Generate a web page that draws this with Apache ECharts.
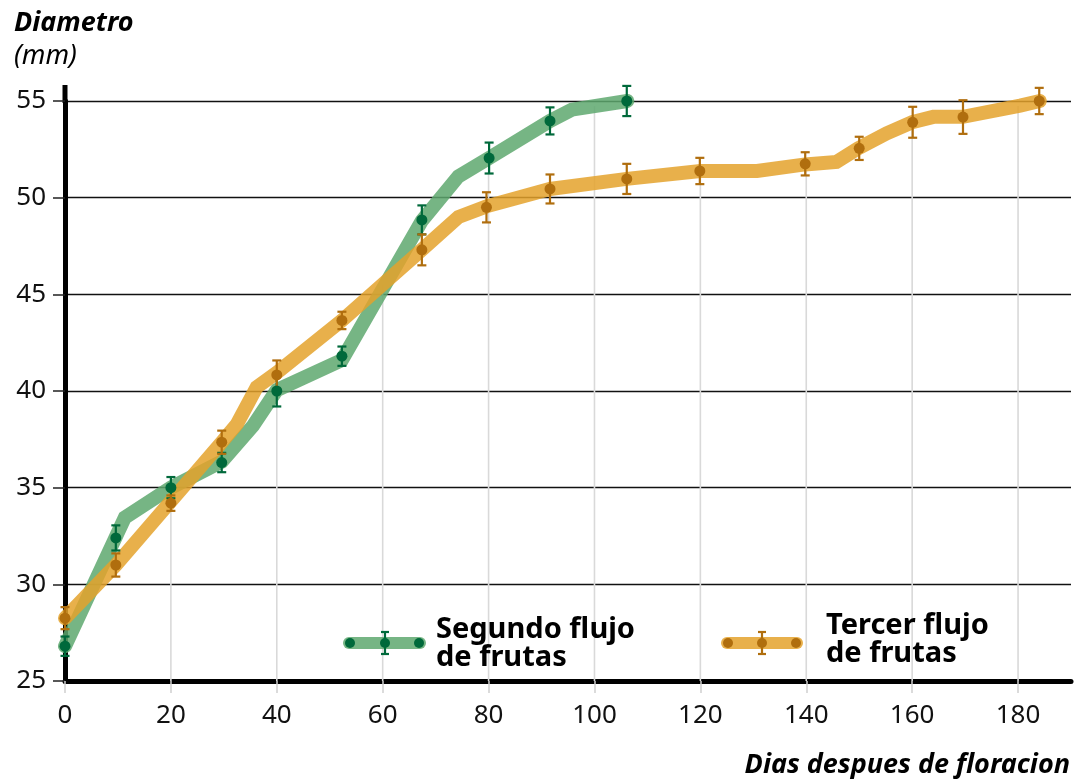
<!DOCTYPE html>
<html><head><meta charset="utf-8">
<script src="https://cdn.jsdelivr.net/npm/echarts@6/dist/echarts.min.js"></script>
<style>html,body{margin:0;padding:0;background:#fff}#c{width:1076px;height:782px}</style>
</head><body><div id="c"></div>
<script>
// ---- Data ----
const xTickValues = [0, 20, 40, 60, 80, 100, 120, 140, 160, 180];
const yTickValues = [25, 30, 35, 40, 45, 50, 55];
const dropLineDays = [20, 40, 60, 80, 100, 120, 140, 160, 180];

// Segundo flujo de frutas: measured means and error (±)
const greenDays = [0, 9.6, 20, 29.6, 40, 52.3, 67.4, 80.1, 91.6, 106.1];
const greenDiam = [26.8, 32.4, 35.0, 36.3, 40.0, 41.8, 48.85, 52.05, 53.97, 55.0];
const greenErr  = [0.5, 0.65, 0.55, 0.5, 0.8, 0.5, 0.75, 0.8, 0.7, 0.78];
// Trend band vertices (green)
const greenCurveDays = [0, 11.3, 20, 29.6, 35.5, 40, 52.3, 67.4, 74.3, 80.1, 91.6, 95.7, 106.2];
const greenCurveDiam = [26.8, 33.45, 35.0, 36.35, 38.2, 40.05, 41.6, 48.8, 51.1, 52.05, 53.97, 54.55, 55.0];

// Tercer flujo de frutas
const orangeDays = [0, 9.6, 20, 29.6, 40, 52.3, 67.4, 79.6, 91.6, 106.1, 119.9, 139.8, 150, 160.1, 169.6, 184];
const orangeDiam = [28.25, 31.0, 34.2, 37.35, 40.83, 43.65, 47.3, 49.5, 50.45, 50.97, 51.38, 51.75, 52.55, 53.9, 54.17, 55.0];
const orangeErr  = [0.57, 0.6, 0.4, 0.6, 0.75, 0.45, 0.8, 0.78, 0.75, 0.78, 0.68, 0.6, 0.6, 0.8, 0.87, 0.68];
// Trend band vertices (orange)
const orangeCurveDays = [0, 9.6, 20, 29.6, 32.5, 36.2, 40, 52.3, 67.4, 74.3, 79.6, 91.6, 106.1, 120, 130.7, 139.8, 145.7, 149.8, 155.2, 160, 164, 169.6, 180.4, 184.1];
const orangeCurveDiam = [28.25, 31.0, 34.3, 37.35, 38.3, 40.2, 40.95, 43.65, 47.3, 49.0, 49.55, 50.45, 50.97, 51.38, 51.38, 51.72, 51.85, 52.55, 53.33, 53.9, 54.18, 54.18, 54.76, 55.0];

const seriesNames = ['Segundo flujo\nde frutas', 'Tercer flujo\nde frutas'];

// ---- Styles ----
const GREEN_BAND = '#5ea86f', GREEN_DARK = '#00693b';
const ORANGE_BAND = '#e4a22b', ORANGE_DARK = '#b06e0e';
const BAND_OPACITY = 0.85;
const FONT = '"Noto Sans", "Open Sans", sans-serif';

const zip = (a, b, c) => a.map((v, i) => c ? [v, b[i], c[i]] : [v, b[i]]);
const greenCurve = zip(greenCurveDays, greenCurveDiam);
const orangeCurve = zip(orangeCurveDays, orangeCurveDiam);

function curveAt(curve, x) {
  if (x < curve[0][0] || x > curve[curve.length - 1][0]) return -Infinity;
  for (let i = 1; i < curve.length; i++) {
    if (x <= curve[i][0]) {
      const [x0, y0] = curve[i - 1], [x1, y1] = curve[i];
      return y0 + (y1 - y0) * (x - x0) / (x1 - x0);
    }
  }
  return -Infinity;
}

function errRender(color) {
  return function (params, api) {
    const x = api.value(0), y = api.value(1), e = api.value(2);
    const t = api.coord([x, y + e]), b = api.coord([x, y - e]);
    const w = 4.5, st = { stroke: color, lineWidth: 2.2 };
    return { type: 'group', children: [
      { type: 'line', shape: { x1: t[0], y1: t[1], x2: b[0], y2: b[1] }, style: st },
      { type: 'line', shape: { x1: t[0] - w, y1: t[1], x2: t[0] + w, y2: t[1] }, style: st },
      { type: 'line', shape: { x1: b[0] - w, y1: b[1], x2: b[0] + w, y2: b[1] }, style: st }
    ]};
  };
}

function legendItem(x0, x1, xm, y, band, dark, tx, ty, label) {
  const st = { stroke: dark, lineWidth: 2.2 };
  return [
    { type: 'line', shape: { x1: x0, y1: y, x2: x1, y2: y }, style: { stroke: band, lineWidth: 12, lineCap: 'round', opacity: BAND_OPACITY }, z: 100 },
    { type: 'circle', shape: { cx: x0 + 1, cy: y, r: 5 }, style: { fill: dark }, z: 101 },
    { type: 'circle', shape: { cx: xm, cy: y, r: 5 }, style: { fill: dark }, z: 101 },
    { type: 'circle', shape: { cx: x1 - 1, cy: y, r: 5 }, style: { fill: dark }, z: 101 },
    { type: 'line', shape: { x1: xm, y1: y - 11, x2: xm, y2: y + 11 }, style: st, z: 101 },
    { type: 'line', shape: { x1: xm - 4, y1: y - 11, x2: xm + 4, y2: y - 11 }, style: st, z: 101 },
    { type: 'line', shape: { x1: xm - 4, y1: y + 11, x2: xm + 4, y2: y + 11 }, style: st, z: 101 },
    { type: 'text', left: tx, top: ty, style: { text: label, font: 'bold 29px ' + FONT, fill: '#000', lineHeight: 28 }, z: 101 }
  ];
}

const chart = echarts.init(document.getElementById('c'), null, { renderer: 'canvas' });
chart.setOption({
  backgroundColor: '#fff',
  animation: false,
  title: {
    text: 'Diametro', subtext: '(mm)', left: 9, top: 5, itemGap: 6,
    textStyle: { fontFamily: FONT, fontSize: 27, fontWeight: 'bold', fontStyle: 'italic', color: '#000' },
    subtextStyle: { fontFamily: FONT, fontSize: 27, fontStyle: 'italic', color: '#000' }
  },
  grid: { left: 65, right: 5, top: 101, bottom: 101, containLabel: false },
  xAxis: {
    type: 'value', min: 0, max: 190, interval: 20,
    axisLine: { show: true, onZero: false, lineStyle: { color: '#000', width: 5 } },
    axisTick: { show: true, length: 12, customValues: xTickValues, lineStyle: { color: '#cfcfcf', width: 1.5 } },
    axisLabel: { margin: 22, fontFamily: FONT, fontSize: 26, color: '#111', customValues: xTickValues },
    splitLine: { show: false }
  },
  yAxis: {
    type: 'value', min: 25, max: 55, interval: 5,
    axisLine: { show: true, onZero: false, lineStyle: { color: '#000', width: 5 } },
    axisTick: { show: true, length: 12, lineStyle: { color: '#222', width: 1.5 } },
    axisLabel: { margin: 19, fontFamily: FONT, fontSize: 26, color: '#111' },
    splitLine: { show: true, lineStyle: { color: '#111', width: 1.4 } }
  },
  graphic: [
    // upward extension of the y axis line above the 55 gridline
    { type: 'line', shape: { x1: 65, y1: 85, x2: 65, y2: 103 }, style: { stroke: '#000', lineWidth: 5 }, z: 0 },
    { type: 'text', right: 6, top: 752, style: { text: 'Dias despues de floracion', font: 'italic bold 27px ' + FONT, fill: '#000' } },
    ...legendItem(349, 420, 385, 643, GREEN_BAND, GREEN_DARK, 436, 615, seriesNames[0]),
    ...legendItem(727, 797, 762, 643, ORANGE_BAND, ORANGE_DARK, 826, 611, seriesNames[1])
  ],
  series: [
    {
      name: 'drop', type: 'custom', z: 1, silent: true, clip: false,
      data: dropLineDays.map(d => [d, 25]),
      renderItem: function (params, api) {
        const x = api.value(0);
        const top = Math.max(curveAt(greenCurve, x), curveAt(orangeCurve, x));
        if (!isFinite(top)) return null;
        const p1 = api.coord([x, 25]), p2 = api.coord([x, top]);
        return { type: 'line', shape: { x1: p1[0], y1: p1[1], x2: p2[0], y2: p2[1] }, style: { stroke: '#d9d9d9', lineWidth: 1.6 } };
      }
    },
    {
      name: seriesNames[0] + ' band', type: 'line', z: 3, clip: false, data: greenCurve, showSymbol: false, symbol: 'none',
      lineStyle: { color: GREEN_BAND, width: 14, cap: 'round', join: 'miter', opacity: BAND_OPACITY }
    },
    {
      name: seriesNames[1] + ' band', type: 'line', z: 3, clip: false, data: orangeCurve, showSymbol: false, symbol: 'none',
      lineStyle: { color: ORANGE_BAND, width: 14, cap: 'round', join: 'miter', opacity: BAND_OPACITY }
    },
    { name: seriesNames[0] + ' err', type: 'custom', z: 4, clip: false, data: zip(greenDays, greenDiam, greenErr), renderItem: errRender(GREEN_DARK) },
    { name: seriesNames[1] + ' err', type: 'custom', z: 4, clip: false, data: zip(orangeDays, orangeDiam, orangeErr), renderItem: errRender(ORANGE_DARK) },
    { name: seriesNames[0], type: 'scatter', z: 5, clip: false, data: zip(greenDays, greenDiam), symbolSize: 11, itemStyle: { color: GREEN_DARK, opacity: 1 } },
    { name: seriesNames[1], type: 'scatter', z: 5, clip: false, data: zip(orangeDays, orangeDiam), symbolSize: 11, itemStyle: { color: ORANGE_DARK, opacity: 1 } }
  ]
});
</script></body></html>
